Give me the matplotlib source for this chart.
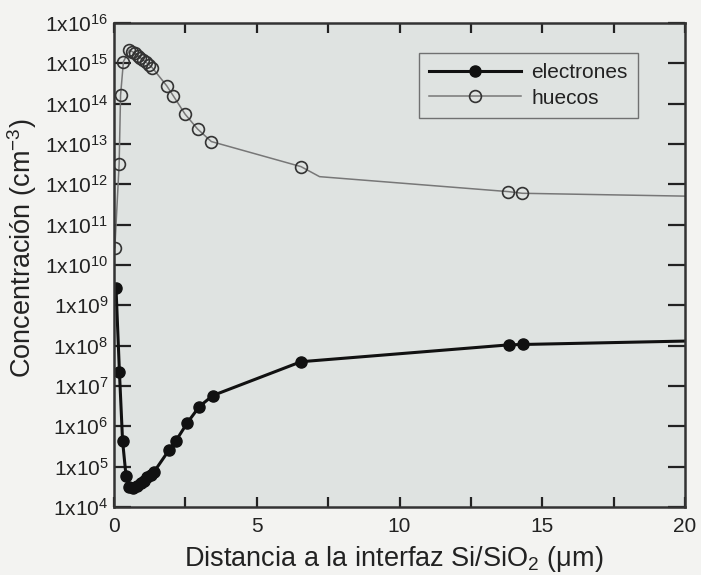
import matplotlib
matplotlib.use("Agg")
import matplotlib.pyplot as plt
from matplotlib.ticker import MultipleLocator, FixedLocator, FixedFormatter

plt.rcParams['font.family'] = ['Liberation Sans', 'DejaVu Sans']
plt.rcParams['mathtext.fontset'] = 'custom'
plt.rcParams['mathtext.rm'] = 'Liberation Sans'
plt.rcParams['mathtext.it'] = 'Liberation Sans:italic'
plt.rcParams['mathtext.bf'] = 'Liberation Sans:bold'

# ---- data ----
electrones_x = [0.07, 0.19, 0.30, 0.42, 0.54, 0.68, 0.82, 0.93, 1.05, 1.17, 1.29, 1.40,
                1.93, 2.17, 2.57, 2.99, 3.46, 6.55, 13.85, 14.33, 20.0]
electrones_y = [2.75e9, 2.24e7, 4.4e5, 6.0e4, 3.2e4, 2.9e4, 3.3e4, 3.9e4, 4.5e4, 5.4e4, 6.2e4, 7.4e4,
                2.6e5, 4.4e5, 1.23e6, 3.1e6, 5.8e6, 4.0e7, 1.05e8, 1.07e8, 1.3e8]
electrones_marked = [True] * 20 + [False]

huecos_x = [0.03, 0.18, 0.23, 0.33, 0.54, 0.64, 0.74, 0.83, 0.92, 1.03, 1.13, 1.24, 1.34,
            1.85, 2.08, 2.49, 2.93, 3.41, 6.55, 7.2, 13.81, 14.30, 20.0]
huecos_y = [2.69e10, 3.16e12, 1.62e14, 1.10e15, 2.14e15, 1.95e15, 1.78e15, 1.55e15, 1.38e15,
            1.20e15, 1.05e15, 9.1e14, 7.8e14, 2.75e14, 1.55e14, 5.5e13, 2.34e13, 1.15e13,
            2.75e12, 1.55e12, 6.6e11, 6.0e11, 5.1e11]
huecos_marked = [True] * 19 + [False, True, True, False]

y_tick_exps = list(range(4, 17))
y_tick_labels = ['1x10$^{%d}$' % e for e in y_tick_exps]
x_tick_labels = ['0', '5', '10', '15', '20']

# ---- figure ----
fig = plt.figure(figsize=(7.01, 5.75), dpi=100, facecolor='#f3f3f1')
ax = fig.add_axes([114/701, 1 - 507/575, (685 - 114)/701, (507 - 23)/575])
ax.set_facecolor('#dfe3e1')

ink = '#222222'
ax.plot(electrones_x, electrones_y, color='#111111', lw=2.2, marker='o', ms=8,
        mfc='#111111', mec='#111111',
        markevery=[i for i, m in enumerate(electrones_marked) if m], label='electrones')
ax.plot(huecos_x, huecos_y, color='#777777', lw=1.1, marker='o', ms=8.5,
        mfc='none', mec='#333333', mew=1.2,
        markevery=[i for i, m in enumerate(huecos_marked) if m], label='huecos')

ax.set_yscale('log')
ax.set_xlim(0, 20)
ax.set_ylim(1e4, 1e16)

ax.yaxis.set_major_locator(FixedLocator([10.0**e for e in y_tick_exps]))
ax.yaxis.set_major_formatter(FixedFormatter(y_tick_labels))
ax.yaxis.set_minor_locator(FixedLocator([]))
ax.xaxis.set_major_locator(FixedLocator([0, 5, 10, 15, 20]))
ax.xaxis.set_major_formatter(FixedFormatter(x_tick_labels))
ax.xaxis.set_minor_locator(MultipleLocator(2.5))

ax.tick_params(axis='y', which='major', direction='in', length=12.5, width=1.6,
               left=True, right=True, labelsize=15, colors=ink, pad=4)
ax.tick_params(axis='x', which='both', direction='in', length=7, width=1.6,
               top=True, bottom=True, labelsize=15, colors=ink, pad=7)
ax.tick_params(axis='x', which='minor', labelbottom=False)

for s in ax.spines.values():
    s.set_linewidth(1.8)
    s.set_color('#333333')

ax.set_xlabel('Distancia a la interfaz Si/SiO$_2$ (μm)', fontsize=19.5, color=ink)
ax.set_ylabel('Concentración (cm$^{-3}$)', fontsize=19.5, color=ink)
ax.xaxis.set_label_coords(0.49, -0.076)
ax.yaxis.set_label_coords(-0.132, 0.535)

leg = ax.legend(loc='upper right', bbox_to_anchor=(0.918, 0.938), fontsize=15,
                frameon=True, fancybox=False, handlelength=4.4, borderpad=0.5,
                labelspacing=0.3, handletextpad=0.5, borderaxespad=0)
leg.get_frame().set_facecolor('#dfe3e1')
leg.get_frame().set_edgecolor('#555555')
leg.get_frame().set_linewidth(1.0)
for t in leg.get_texts():
    t.set_color(ink)

fig.savefig('out.png', dpi=100, facecolor=fig.get_facecolor())
